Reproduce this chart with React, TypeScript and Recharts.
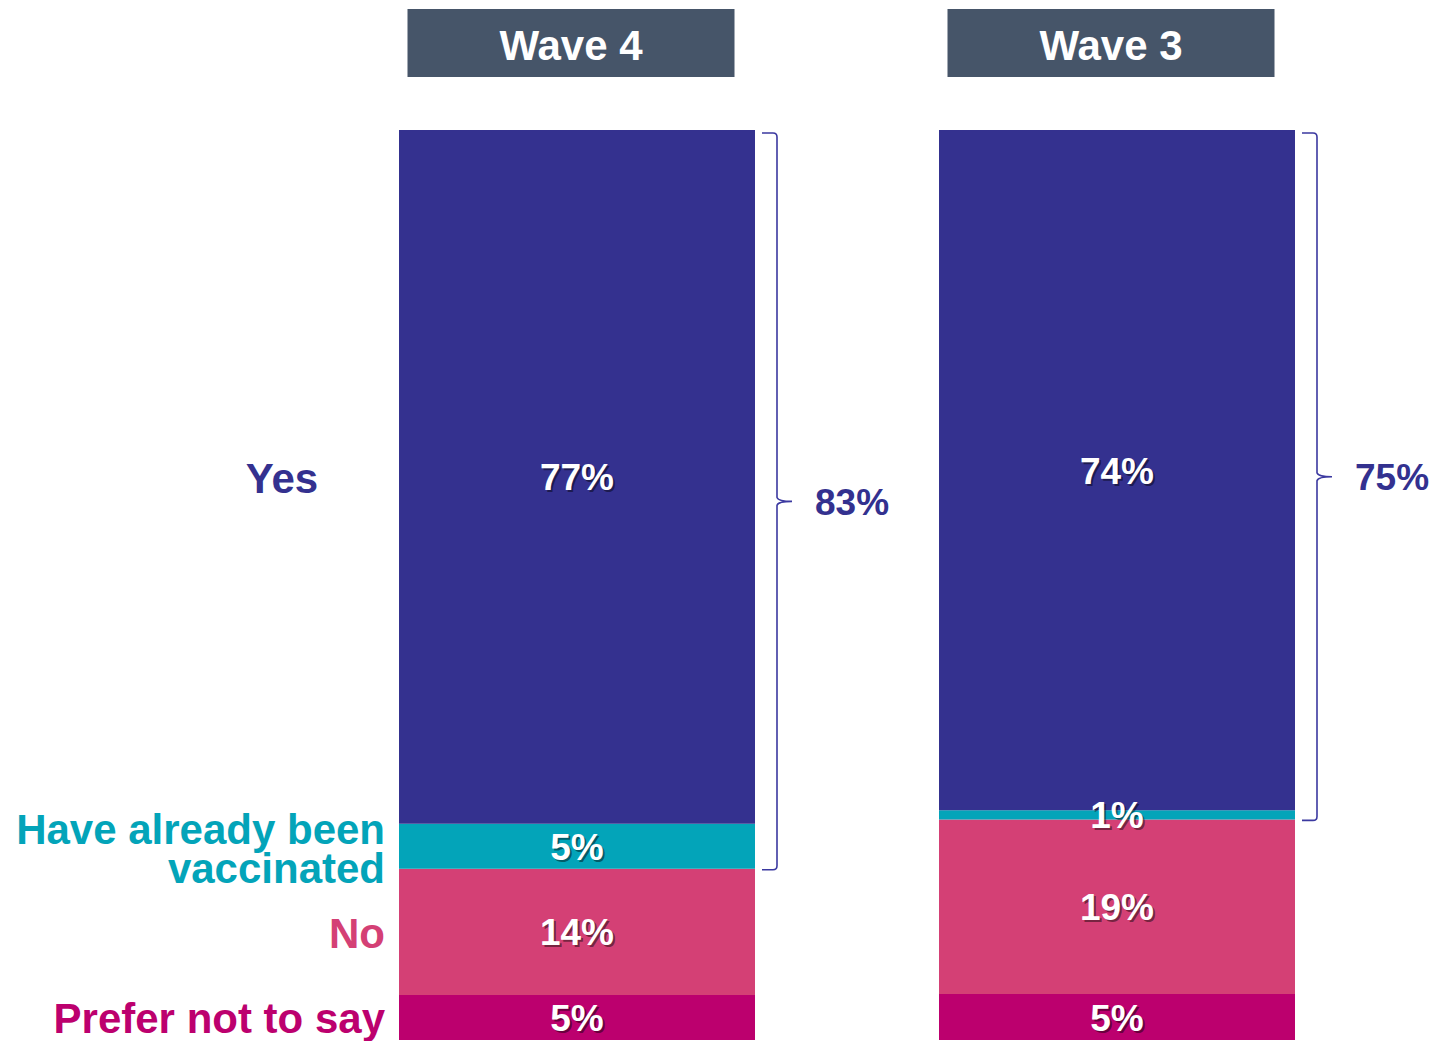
import React from 'react'
import { BarChart, Bar, XAxis, YAxis, LabelList } from 'recharts'

// survey waves, left to right
const waves = ['Wave 4', 'Wave 3']
// stacked bottom -> top
const preferNot = [5, 5]
const no = [14, 19]
const vaccinated = [5, 1]
const yes = [77, 74]
// bracket totals (yes + already vaccinated)
const netYes = ['83%', '75%']

const seriesKeys = ['preferNot', 'no', 'vaccinated', 'yes']
const seriesNames = ['Prefer not to say', 'No', 'Have already been\nvaccinated', 'Yes']
const seriesColors = ['#bc006e', '#d44075', '#03a4b9', '#34318f']
const seriesValues = [preferNot, no, vaccinated, yes]

const data = waves.map((w, i) => ({
  wave: w,
  preferNot: preferNot[i],
  no: no[i],
  vaccinated: vaccinated[i],
  yes: yes[i],
}))

const FONT = '"Liberation Sans", Arial, sans-serif'

const HeaderTick = (props: any) => {
  const { x, payload } = props
  const cx = x - 6
  return (
    <g>
      <rect x={cx - 163.5} y={9} width={327} height={68} fill="#465569" />
      <text x={cx} y={45} textAnchor="middle" dominantBaseline="central"
        fill="#fff" fontFamily={FONT} fontWeight="bold" fontSize={42}>{payload.value}</text>
    </g>
  )
}

const makeLabel = (s: number) => (props: any) => {
  const { x, y, width, height, index } = props
  const cx = x + width / 2
  const cy = y + height / 2 + 1
  const txt = seriesValues[s][index] + '%'
  const lines = seriesNames[s].split('\n')
  const isYes = seriesKeys[s] === 'yes'
  let bracket = null
  if (isYes) {
    const vaccH = height * vaccinated[index] / yes[index]
    const top = y + 3
    const bottom = y + height + vaccH + 1
    const x0 = x + width + 7
    const x1 = x + width + 22
    const mid = (top + bottom) / 2
    const d = `M ${x0} ${top} L ${x1 - 4} ${top} Q ${x1} ${top} ${x1} ${top + 4} ` +
      `L ${x1} ${mid - 4} Q ${x1 + 1} ${mid} ${x1 + 15} ${mid} ` +
      `Q ${x1 + 1} ${mid} ${x1} ${mid + 4} L ${x1} ${bottom - 4} ` +
      `Q ${x1} ${bottom} ${x1 - 4} ${bottom} L ${x0} ${bottom}`
    bracket = (
      <g>
        <path d={d} fill="none" stroke="#3b39a0" strokeWidth={1.6} />
        <text x={x + width + 60} y={mid + 1} dominantBaseline="central" fill="#33318f"
          fontFamily={FONT} fontWeight="bold" fontSize={37}>{netYes[index]}</text>
      </g>
    )
  }
  const lx = isYes ? x - 117 : x - 14
  return (
    <g>
      <text x={cx + 2} y={cy + 2} textAnchor="middle" dominantBaseline="central"
        fill="rgba(0,0,0,0.45)" fontFamily={FONT} fontWeight="bold" fontSize={37}>{txt}</text>
      <text x={cx} y={cy} textAnchor="middle" dominantBaseline="central"
        fill="#fff" fontFamily={FONT} fontWeight="bold" fontSize={37}>{txt}</text>
      {bracket}
      {index === 0 && (
        <text x={lx} y={lines.length > 1 ? cy - 18 : cy}
          textAnchor={isYes ? 'middle' : 'end'} dominantBaseline="central"
          fill={seriesColors[s]} fontFamily={FONT} fontWeight="bold" fontSize={42}>
          {lines.map((ln, k) => (
            <tspan key={k} x={lx} dy={k === 0 ? 0 : 39}>{ln}</tspan>
          ))}
        </text>
      )}
    </g>
  )
}

export default function App() {
  return (
    <div style={{ position: 'absolute', left: 0, top: 0, background: '#fff' }}>
      <BarChart width={1442} height={1041} data={data} stackOffset="expand"
        margin={{ top: 30, right: 55, left: 307, bottom: 1 }}>
        <XAxis dataKey="wave" orientation="top" height={100} axisLine={false}
          tickLine={false} tick={<HeaderTick />} interval={0} />
        <YAxis hide domain={[0, 1]} />
        {seriesKeys.map((k, s) => (
          <Bar key={k} dataKey={k} stackId="a" fill={seriesColors[s]} barSize={356}
            isAnimationActive={false}>
            <LabelList dataKey={k} content={makeLabel(s)} />
          </Bar>
        ))}
      </BarChart>
    </div>
  )
}
